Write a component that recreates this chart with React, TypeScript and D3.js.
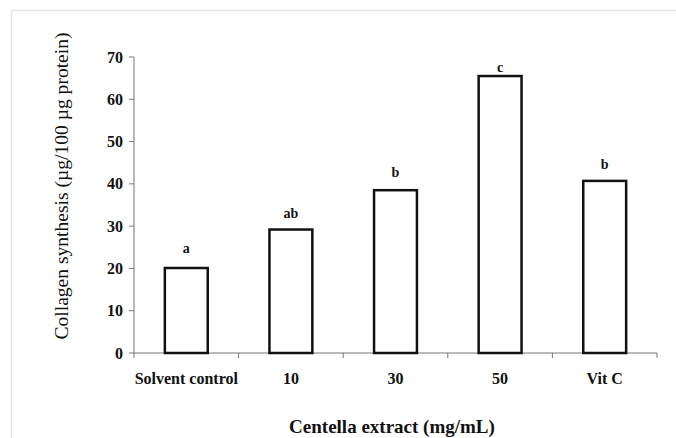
import React from "react";
import * as d3 from "d3";

const categories = ["Solvent control", "10", "30", "50", "Vit C"];
const values = [20.1, 29.2, 38.5, 65.5, 40.7];
const letters = ["a", "ab", "b", "c", "b"];
const letterLevels = [23.6, 31.9, 41.6, 66.4, 43.5];
const yTicks = [0, 10, 20, 30, 40, 50, 60, 70];
const yTitle = "Collagen synthesis  (µg/100  µg protein)";
const xTitle = "Centella extract (mg/mL)";

const W = 676;
const H = 438;
const left = 134;
const right = 657;
const top = 57;
const bottom = 353;
const FONT = "'Liberation Serif', 'Times New Roman', serif";

export default function App() {
  const x = d3
    .scaleBand<string>()
    .domain(categories)
    .range([left, right])
    .paddingInner(0.59)
    .paddingOuter(0.295);
  const y = d3.scaleLinear().domain([0, 70]).range([bottom, top]);
  const step = x.step();
  const boundaries = d3.range(categories.length + 1).map((i) => left + i * step);

  return (
    <svg
      width={W}
      height={H}
      style={{ position: "absolute", left: 0, top: 0, background: "#fff", fontFamily: FONT }}
    >
      <rect x={0} y={0} width={W} height={H} fill="#fff" />
      {/* light frame */}
      <path d={`M11.5,${H} V10.5 H${W}`} fill="none" stroke="#e4e4e4" strokeWidth={1.5} />

      {/* y axis */}
      <line x1={left} x2={left} y1={top} y2={bottom} stroke="#777" strokeWidth={1} />
      {yTicks.map((t) => (
        <g key={t}>
          <line x1={left - 5} x2={left} y1={y(t)} y2={y(t)} stroke="#777" strokeWidth={1} />
          <text
            x={left - 11}
            y={y(t)}
            dy="0.35em"
            textAnchor="end"
            fontSize={16}
            fontWeight="bold"
            fill="#111"
          >
            {t}
          </text>
        </g>
      ))}

      {/* x axis */}
      <line x1={left} x2={right} y1={bottom} y2={bottom} stroke="#777" strokeWidth={1} />
      {boundaries.map((b, i) => (
        <line key={i} x1={b} x2={b} y1={bottom} y2={bottom + 5} stroke="#777" strokeWidth={1} />
      ))}
      {categories.map((c) => (
        <text
          key={c}
          x={(x(c) as number) + x.bandwidth() / 2}
          y={384}
          textAnchor="middle"
          fontSize={16}
          fontWeight="bold"
          fill="#111"
        >
          {c}
        </text>
      ))}

      {/* bars */}
      {categories.map((c, i) => (
        <rect
          key={c}
          x={x(c) as number}
          y={y(values[i])}
          width={x.bandwidth()}
          height={bottom - y(values[i])}
          fill="#fff"
          stroke="#111"
          strokeWidth={2.5}
        />
      ))}

      {/* significance letters */}
      {categories.map((c, i) => (
        <text
          key={c}
          x={(x(c) as number) + x.bandwidth() / 2}
          y={y(letterLevels[i])}
          textAnchor="middle"
          fontSize={14}
          fontWeight="bold"
          fill="#111"
        >
          {letters[i]}
        </text>
      ))}

      {/* titles */}
      <text
        transform={`translate(68,186) rotate(-90)`}
        textAnchor="middle"
        fontSize={19}
        fill="#111"
        textLength={307}
        lengthAdjust="spacingAndGlyphs"
      >
        {yTitle}
      </text>
      <text x={392} y={433} textAnchor="middle" fontSize={19} fontWeight="bold" fill="#111">
        {xTitle}
      </text>
    </svg>
  );
}
